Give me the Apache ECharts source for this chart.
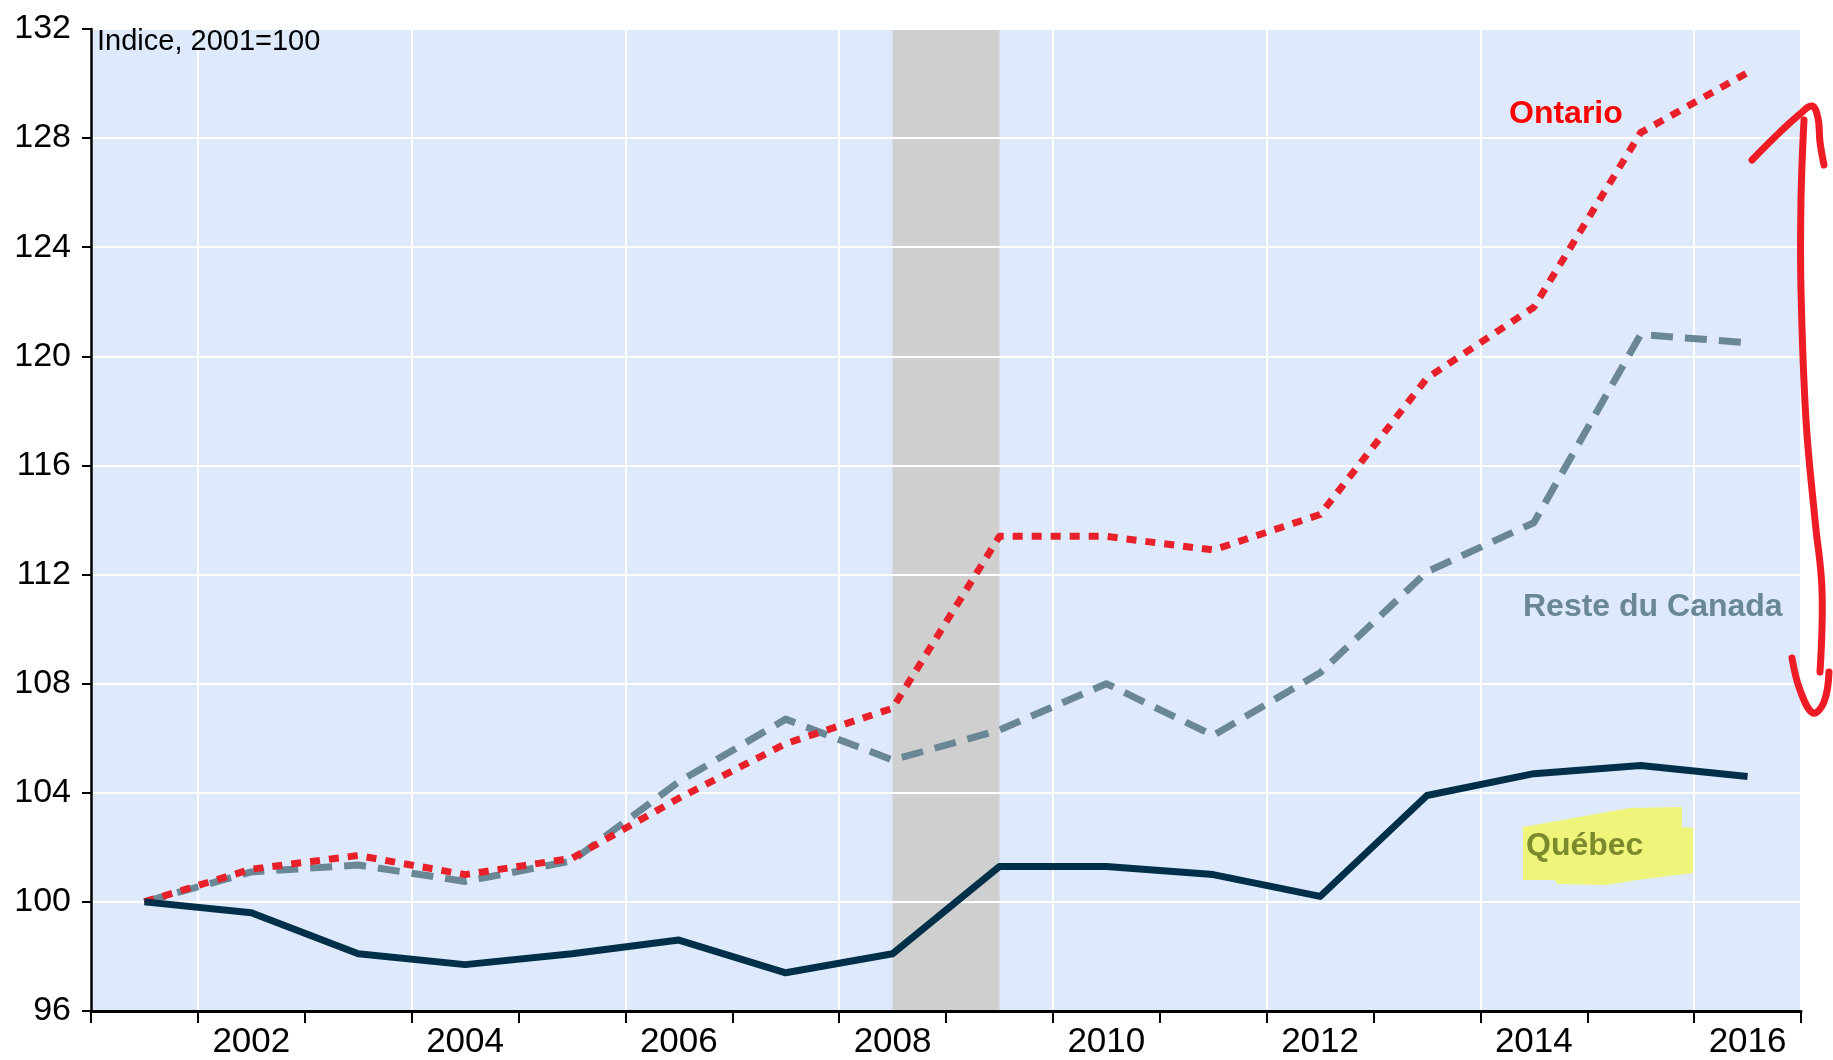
<!DOCTYPE html>
<html>
<head>
<meta charset="utf-8">
<script src="https://cdn.jsdelivr.net/npm/echarts@6/dist/echarts.min.js"></script>
<style>html,body{margin:0;padding:0;background:#fff}#c{width:1833px;height:1060px}</style>
</head>
<body>
<div id="c"></div>
<script>
const years = ['2001','2002','2003','2004','2005','2006','2007','2008','2009','2010','2011','2012','2013','2014','2015','2016'];
const quebec  = [100.0, 99.6, 98.1, 97.7, 98.1, 98.6, 97.4, 98.1, 101.3, 101.3, 101.0, 100.2, 103.9, 104.7, 105.0, 104.6];
const ontario = [100.0, 101.2, 101.7, 101.0, 101.6, 103.8, 105.8, 107.1, 113.4, 113.4, 112.9, 114.2, 119.2, 121.8, 128.2, 130.4];
const reste   = [100.0, 101.1, 101.35, 100.75, 101.5, 104.4, 106.7, 105.2, 106.3, 108.0, 106.1, 108.4, 112.1, 113.9, 120.8, 120.5];
const recession = ['2008', '2009'];
const yTicks = {min: 96, max: 132, interval: 4};

const FONT = 'Liberation Sans, Arial, sans-serif';
const chart = echarts.init(document.getElementById('c'));
chart.setOption({
  animation: false,
  grid: {left: 91, right: 32, top: 29, bottom: 48, show: true, backgroundColor: '#deeafb', borderWidth: 0, z: 0},
  xAxis: {
    type: 'category', data: years, boundaryGap: true, z: 3,
    axisLine: {lineStyle: {color: '#000', width: 3}},
    axisTick: {show: true, interval: 0, length: 12, lineStyle: {color: '#000', width: 2}},
    axisLabel: {interval: (i) => i % 2 === 1, fontSize: 35, color: '#000', fontFamily: FONT, margin: 14},
    splitLine: {show: true, interval: (i) => i % 2 === 1, lineStyle: {color: '#fff', width: 2}}
  },
  yAxis: {
    type: 'value', min: yTicks.min, max: yTicks.max, interval: yTicks.interval, z: 3,
    axisLine: {show: true, lineStyle: {color: '#000', width: 2.5}},
    axisTick: {show: true, length: 9, lineStyle: {color: '#000', width: 2}},
    axisLabel: {fontSize: 34, color: '#000', fontFamily: FONT, margin: 20},
    splitLine: {show: true, lineStyle: {color: '#fff', width: 2}}
  },
  series: [
    {type: 'line', data: [], z: 1, silent: true,
     markArea: {silent: true, itemStyle: {color: '#cfcfcf'}, data: [[{xAxis: recession[0]}, {xAxis: recession[1]}]]}},
    {name: 'Reste du Canada', type: 'line', data: reste, z: 5, symbol: 'none',
     lineStyle: {color: '#6a8796', width: 7, type: [22, 12], cap: 'butt', join: 'round'}},
    {name: 'Ontario', type: 'line', data: ontario, z: 6, symbol: 'none',
     lineStyle: {color: '#e8202a', width: 7, type: [10, 9], cap: 'butt', join: 'round'}},
    {name: 'Québec', type: 'line', data: quebec, z: 7, symbol: 'none',
     lineStyle: {color: '#003049', width: 7, join: 'round'}}
  ],
  graphic: [
    {type: 'text', left: 97, top: 27, z: 10, style: {text: 'Indice, 2001=100', fontSize: 29, fill: '#000', fontFamily: FONT}},
    {type: 'text', left: 1509, top: 98, z: 10, style: {text: 'Ontario', fontSize: 32, fontWeight: 'bold', fill: '#ff0000', fontFamily: FONT}},
    {type: 'text', left: 1523, top: 591, z: 10, style: {text: 'Reste du Canada', fontSize: 32, fontWeight: 'bold', fill: '#6a8796', fontFamily: FONT}},
    {type: 'polygon', z: 9, shape: {points: [[1523,827],[1630,808],[1682,807],[1682,827],[1693,828],[1693,873],[1637,880],[1607,885],[1557,884],[1555,880],[1523,880]]}, style: {fill: '#eef57a'}},
    {type: 'text', left: 1526, top: 830, z: 10, style: {text: 'Québec', fontSize: 32, fontWeight: 'bold', fill: '#7b8a2c', fontFamily: FONT}},
    {type: 'polyline', z: 11, shape: {smooth: 0.4, points: [[1752,160],[1778,134],[1800,114],[1812,106],[1818,118],[1820,142],[1824,165]]}, style: {stroke: '#ee1c25', lineWidth: 7, fill: null, lineCap: 'round'}},
    {type: 'polyline', z: 11, shape: {smooth: 0.4, points: [[1804,120],[1801,200],[1801,290],[1806,420],[1815,520],[1822,590],[1820,672]]}, style: {stroke: '#ee1c25', lineWidth: 7, fill: null, lineCap: 'round'}},
    {type: 'polyline', z: 11, shape: {smooth: 0.4, points: [[1792,658],[1800,690],[1813,713],[1824,702],[1829,672]]}, style: {stroke: '#ee1c25', lineWidth: 7, fill: null, lineCap: 'round'}}
  ]
});
</script>
</body>
</html>
